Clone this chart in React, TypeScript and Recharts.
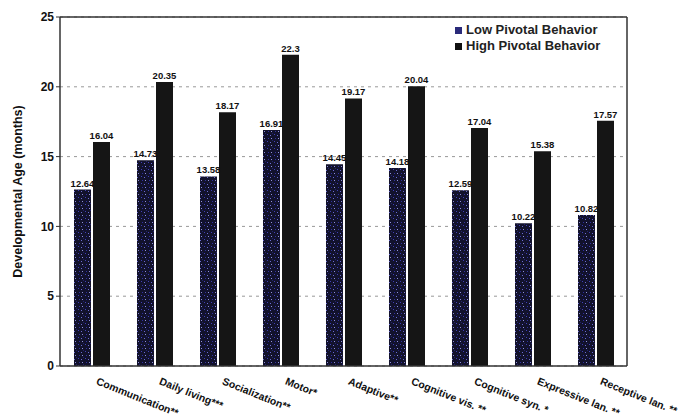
import { BarChart, Bar, XAxis, YAxis, CartesianGrid, Legend, LabelList, ReferenceLine } from "recharts";

const categories = [
  "Communication**",
  "Daily living***",
  "Socialization**",
  "Motor*",
  "Adaptive**",
  "Cognitive vis. **",
  "Cognitive syn. *",
  "Expressive lan. **",
  "Receptive lan. **",
];
const lowPivotal = [12.64, 14.73, 13.58, 16.91, 14.45, 14.18, 12.59, 10.22, 10.82];
const highPivotal = [16.04, 20.35, 18.17, 22.3, 19.17, 20.04, 17.04, 15.38, 17.57];
const yTicks = [0, 5, 10, 15, 20, 25];

const data = categories.map((name, i) => ({
  name,
  low: lowPivotal[i],
  high: highPivotal[i],
}));

const font = "'Liberation Sans', Arial, sans-serif";

const CategoryTick = ({ x, y, payload }: any) => (
  <text
    x={x + 4}
    y={y + 10}
    transform={`rotate(22, ${x + 4}, ${y + 10})`}
    textAnchor="start"
    fontSize={10.5}
    fontWeight="bold"
    fontFamily={font}
    fill="#111"
  >
    {payload.value}
  </text>
);

const LegendBox = () => (
  <div style={{ fontFamily: font, fontSize: 13, fontWeight: "bold", color: "#222", lineHeight: "16px", textAlign: "left" }}>
    <div style={{ display: "flex", alignItems: "center" }}>
      <span style={{ width: 7, height: 7, background: "#2a2a7a", marginRight: 4, display: "inline-block" }} />
      Low Pivotal Behavior
    </div>
    <div style={{ display: "flex", alignItems: "center" }}>
      <span style={{ width: 7, height: 7, background: "#111", marginRight: 4, display: "inline-block" }} />
      High Pivotal Behavior
    </div>
  </div>
);

export default function App() {
  return (
    <div style={{ position: "absolute", left: 0, top: 0, width: 683, height: 418, background: "#fff" }}>
      <BarChart
        width={683}
        height={418}
        data={data}
        margin={{ top: 17, right: 55, bottom: 0, left: 0 }}
        barSize={17}
        barGap={2}
      >
        <defs>
          <pattern id="speckle" width="7" height="7" patternUnits="userSpaceOnUse">
            <rect width="7" height="7" fill="#12122c" />
            <rect x="1" y="1" width="1" height="1" fill="#4040b8" />
            <rect x="4" y="2" width="1" height="1" fill="#6a6ad0" />
            <rect x="2" y="5" width="1" height="1" fill="#3030a0" />
            <rect x="5" y="5" width="1" height="1" fill="#9090d8" />
            <rect x="6" y="0" width="1" height="1" fill="#22226e" />
          </pattern>
        </defs>
        <CartesianGrid vertical={false} stroke="#999" strokeDasharray="3 4" />
        <XAxis
          dataKey="name"
          interval={0}
          tick={<CategoryTick />}
          tickLine={false}
          axisLine={{ stroke: "#333", strokeWidth: 1.5 }}
          height={52}
        />
        <YAxis
          domain={[0, 25]}
          ticks={yTicks}
          width={60}
          tickSize={4}
          tick={{ fontSize: 12, fontWeight: "bold", fontFamily: font, fill: "#111" }}
          axisLine={{ stroke: "#333", strokeWidth: 1.5 }}
          tickLine={{ stroke: "#333" }}
          label={{
            value: "Developmental Age (months)",
            angle: -90,
            position: "insideLeft",
            offset: 18,
            style: { fontSize: 12.5, fontWeight: "bold", fontFamily: font, fill: "#111", textAnchor: "middle" },
          }}
        />
        <YAxis
          yAxisId="right"
          orientation="right"
          domain={[0, 25]}
          width={1}
          tick={false}
          tickLine={false}
          axisLine={{ stroke: "#333", strokeWidth: 1.5 }}
        />
        <ReferenceLine y={25} stroke="#333" strokeWidth={1.5} />
        <Legend
          layout="horizontal"
          verticalAlign="middle"
          align="center"
          content={<LegendBox />}
          wrapperStyle={{ top: 22, left: 455, width: 172 }}
        />
        <Bar dataKey="low" name="Low Pivotal Behavior" fill="url(#speckle)" isAnimationActive={false}>
          <LabelList dataKey="low" position="top" offset={3} style={{ fontSize: 9.5, fontWeight: "bold", fontFamily: font, fill: "#111" }} />
        </Bar>
        <Bar dataKey="high" name="High Pivotal Behavior" fill="#151515" isAnimationActive={false}>
          <LabelList dataKey="high" position="top" offset={3} style={{ fontSize: 9.5, fontWeight: "bold", fontFamily: font, fill: "#111" }} />
        </Bar>
      </BarChart>
    </div>
  );
}
